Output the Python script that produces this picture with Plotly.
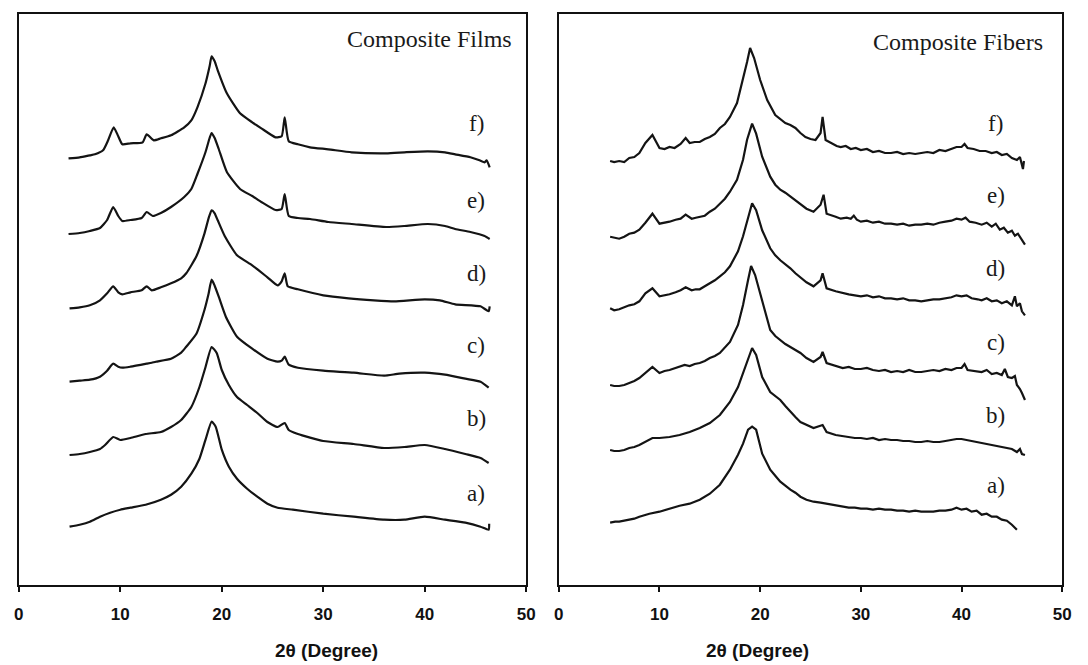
import plotly.graph_objects as go

# ---------------- data: (2theta, intensity above own baseline) ----------------
films_f = [(4.9,0),(6,1),(7,3),(7.5,4),(8.3,8),(8.8,18),(9.35,31),(9.8,22),(10.2,14),(11,15),(12.2,16),(12.6,24),(13.3,18),(14,20),(15,23),(16.3,31),(17,38),(17.6,51),(18.4,75),(18.8,92),(19.0,102),(19.3,97),(19.6,88),(20.5,65),(21.8,45),(23,36),(23.9,30),(25.3,21),(25.9,22),(26.2,41),(26.6,17),(27.5,14),(28.7,11),(30.5,9),(32.8,6),(36.2,5),(38,6),(40.3,7),(42,6),(43,4),(44.5,1),(45.4,-2),(45.9,-4),(46.1,-2),(46.4,-9)]
films_e = [(4.9,0),(6,1),(7,3),(8,6),(8.7,14),(9.3,27),(9.8,18),(10.2,13),(11,14),(12.1,16),(12.6,22),(13.2,18),(14,21),(15,27),(16.3,37),(17,45),(17.6,60),(18.4,82),(18.8,96),(19.0,101),(19.3,96),(19.7,85),(20.5,62),(21.8,45),(23,38),(23.9,32),(25.3,24),(25.9,25),(26.2,40),(26.6,18),(27.5,16),(28.7,15),(30.5,12),(32.8,10),(36.2,7),(38,8),(40.3,10),(42,8),(43,5),(44.5,2),(45.9,-2),(46.4,-5)]
films_d = [(5,0),(6,1),(7,3),(8,8),(8.7,15),(9.3,22),(9.8,16),(10.2,14),(11,16),(12.1,18),(12.6,22),(13.1,18),(14,21),(15,25),(16,30),(16.5,35),(17.5,52),(18.3,75),(18.7,90),(19.0,98),(19.3,95),(19.6,88),(20.3,72),(21.5,53),(23,43),(24.5,31),(25.5,23),(25.9,27),(26.2,35),(26.5,22),(27.5,19),(30,13),(32.5,10),(35,8),(37,7),(40,9),(41.5,8),(43,4),(45.5,2),(46.3,-3),(46.4,2)]
films_c = [(5,0),(6,1),(7,2),(8,5),(8.7,11),(9.3,18),(9.8,15),(10.2,14),(11,15),(12.6,18),(13.1,19),(13.5,20),(15,23),(16,29),(16.5,35),(17.5,48),(18.3,72),(18.7,88),(19.0,102),(19.3,96),(19.7,85),(20.4,65),(21.5,45),(23,33),(24.5,23),(25.5,20),(25.9,21),(26.2,25),(26.6,17),(27.5,14),(30,11),(33,9),(36,6),(37.5,8),(40,9),(42,7),(44,3),(45.5,0),(46.3,-6)]
films_b = [(5,0),(6,1),(7,3),(8,6),(8.5,10),(9.3,18),(10,15),(11,17),(12.5,21),(14,23),(15,28),(16,35),(17,48),(17.8,68),(18.4,88),(19.0,108),(19.5,102),(20,85),(20.7,70),(21.5,58),(22.5,50),(23.5,42),(24.5,33),(25.5,28),(26.2,32),(26.6,25),(27.5,21),(30,14),(33,11),(36,7),(38,8),(40,10),(42,6),(44,1),(45.5,-3),(46.3,-8)]
films_a = [(5,0),(6,2),(7,5),(8,10),(9,14),(10,17),(11,19),(12.5,22),(14,27),(15,32),(16,40),(17,53),(17.8,68),(18.4,87),(19,105),(19.4,100),(20,77),(20.7,60),(21.5,48),(22.5,38),(23.5,30),(24.5,23),(25.5,19),(27,17),(30,13),(33,10),(36,7),(38,7),(40,10),(42,7),(44,4),(45.5,0),(46.3,-3),(46.35,3)]

fibers_f = [(5.1,0),(5.5,-1),(6,0),(6.5,-1),(7,3),(7.5,4),(8,8),(8.6,18),(9.3,26),(10,13),(10.5,12),(11,14),(11.5,13),(12.1,17),(12.6,23),(13,18),(13.5,19),(14,19),(14.5,22),(15,24),(15.5,27),(16,33),(16.5,37),(17,44),(17.7,58),(18.3,81),(18.7,99),(19.0,113),(19.4,103),(20,81),(20.7,61),(21.5,46),(22,42),(22.5,38),(23,36),(23.5,33),(24,28),(24.5,24),(25,22),(25.5,21),(26.0,28),(26.2,44),(26.5,21),(27,18),(27.6,15),(28,14),(28.5,15),(29,12),(29.5,13),(30,11),(30.6,12),(31.2,9),(31.8,10),(32.4,8),(33,8),(33.6,9),(34.2,7),(34.8,8),(35.4,7),(36,8),(36.6,9),(37.2,8),(37.8,11),(38.4,10),(39,12),(39.5,14),(40,14),(40.3,17),(40.6,13),(41.2,12),(41.8,10),(42.4,10),(43,8),(43.5,9),(44,6),(44.5,7),(45,3),(45.5,1),(45.8,4),(46,-4),(46.1,-8),(46.2,0)]
fibers_e = [(5.1,0),(5.5,-1),(6,-2),(6.5,0),(7,3),(7.5,4),(8,7),(8.6,14),(9.3,23),(10,13),(10.5,14),(11,15),(11.6,17),(12.1,18),(12.6,22),(13.2,18),(13.6,19),(14,20),(14.5,21),(15,25),(15.5,28),(16,33),(16.5,38),(17,45),(17.7,57),(18.3,77),(18.7,97),(19.2,113),(19.6,103),(20.2,80),(21,60),(21.5,52),(22,47),(22.5,44),(23,40),(23.5,36),(24,32),(24.6,28),(25.3,25),(26.0,32),(26.3,42),(26.6,23),(27.5,20),(28,18),(28.6,19),(29,18),(29.3,21),(29.6,17),(30,15),(30.6,16),(31.2,14),(31.8,15),(32.4,13),(33,13),(33.6,12),(34.2,13),(34.8,11),(35.4,12),(36,12),(36.6,13),(37.2,12),(37.8,14),(38.4,15),(39,16),(39.5,18),(40,17),(40.4,19),(40.8,15),(41.4,14),(42,12),(42.5,14),(43,10),(43.4,13),(43.8,7),(44.2,9),(44.6,4),(45,6),(45.3,1),(45.6,3),(46,-4),(46.3,-8)]
fibers_d = [(5.1,0),(5.5,-2),(6,-1),(6.5,1),(7,3),(7.5,4),(8,7),(8.6,15),(9.3,20),(10,12),(10.5,13),(11,14),(11.6,16),(12.1,18),(12.6,21),(13.2,18),(13.6,19),(14,19),(14.5,22),(15,25),(15.5,28),(16,32),(16.5,36),(17,42),(17.8,57),(18.3,72),(18.8,92),(19.2,105),(19.6,98),(20.2,78),(21,60),(21.5,53),(22,48),(22.5,44),(23,40),(23.5,35),(24,31),(24.6,26),(25.3,22),(26.0,28),(26.2,35),(26.6,20),(27.5,17),(28.2,15),(28.8,14),(29.4,13),(30,12),(30.6,13),(31.2,11),(31.8,12),(32.4,10),(33,10),(33.6,9),(34.2,10),(34.8,8),(35.4,8),(36,7),(36.6,8),(37.2,9),(37.8,9),(38.4,10),(39,11),(39.5,13),(40,12),(40.5,13),(41,10),(41.6,9),(42,8),(42.5,10),(43,7),(43.5,8),(44,5),(44.5,7),(45,3),(45.3,12),(45.5,2),(45.8,5),(46,-3),(46.3,-7)]
fibers_c = [(5.1,0),(5.5,-1),(6,-1),(6.5,0),(7,2),(7.5,4),(8,7),(8.6,12),(9.3,18),(10,12),(10.5,14),(11,15),(11.6,17),(12.5,20),(13,19),(13.5,21),(14,22),(14.5,24),(15,27),(15.5,29),(16,32),(16.5,37),(17,43),(17.8,60),(18.3,80),(18.8,105),(19.1,119),(19.5,110),(20,92),(20.5,72),(21,55),(21.5,49),(22,45),(22.5,41),(23,38),(23.5,35),(24,32),(24.6,27),(25.3,23),(26.0,28),(26.2,33),(26.6,22),(27.5,19),(28.2,17),(28.8,18),(29.4,16),(30,16),(30.6,17),(31.2,15),(31.8,14),(32.4,15),(33,13),(33.6,14),(34.2,13),(34.8,15),(35.4,13),(36,13),(36.6,14),(37.2,15),(37.8,14),(38.4,16),(39,15),(39.5,17),(40,17),(40.3,21),(40.6,15),(41.2,14),(42,13),(42.5,15),(43,11),(43.5,12),(44,10),(44.3,16),(44.6,8),(45,7),(45.3,9),(45.5,0),(45.8,-4),(46,-8),(46.3,-15)]
fibers_b = [(5.1,0),(5.5,-1),(6,-1),(6.5,0),(7,2),(7.5,3),(8,5),(9,10),(9.3,12),(10,12),(11,13),(12,15),(13,18),(14,22),(15,27),(16,35),(17,48),(17.8,63),(18.3,77),(18.8,93),(19.2,102),(19.6,95),(20.2,73),(21,58),(21.5,54),(22,50),(22.5,44),(23,38),(23.5,33),(24,28),(24.6,25),(25.3,22),(26.2,25),(26.6,18),(27.5,15),(28.2,14),(28.8,13),(29.4,12),(30,12),(30.6,11),(31.2,12),(31.8,10),(32.4,11),(33,10),(33.6,10),(34.2,9),(34.8,9),(35.4,8),(36,8),(36.6,9),(37.2,8),(37.8,8),(38.4,9),(39,10),(39.5,11),(40,11),(40.5,10),(41,9),(41.6,8),(42,7),(42.6,6),(43.2,5),(44,3),(44.5,2),(45,1),(45.5,-2),(45.8,1),(46,-4),(46.3,-5)]
fibers_a = [(5.1,0),(5.6,1),(6,1),(6.5,2),(7,3),(7.5,4),(8,6),(9,9),(10,11),(11,14),(12,17),(13,19),(14,23),(15,29),(16,38),(17,53),(17.8,68),(18.3,79),(18.8,93),(19.2,96),(19.6,93),(20.2,69),(21,53),(21.5,47),(22,41),(22.5,37),(23,33),(23.5,30),(24,26),(24.6,23),(25.3,21),(26,20),(27,18),(27.6,17),(28.2,16),(28.8,15),(29.4,15),(30,14),(30.6,14),(31.2,13),(31.8,14),(32.4,13),(33,13),(33.6,12),(34.2,12),(34.8,11),(35.4,12),(36,11),(36.6,11),(37.2,11),(37.8,12),(38.4,12),(39,13),(39.5,15),(40,13),(40.5,14),(41,11),(41.5,12),(42,8),(42.5,9),(43,6),(43.5,6),(44,3),(44.5,2),(45,-2),(45.5,-7)]

curve_labels = ["a)", "b)", "c)", "d)", "e)", "f)"]
films_offsets = [58.3, 130, 203.3, 276.7, 351, 426.7]
fibers_offsets = [62.3, 135, 200, 276.7, 348.3, 424]
films_label_y = [92, 167, 240, 312, 385, 462]
fibers_label_y = [100, 170, 243, 317, 390, 462]
x_ticks = [0, 10, 20, 30, 40, 50]

films = [films_a, films_b, films_c, films_d, films_e, films_f]
fibers = [fibers_a, fibers_b, fibers_c, fibers_d, fibers_e, fibers_f]

W, H = 1088, 665
fig = go.Figure()

for curve, off in zip(films, films_offsets):
    fig.add_trace(go.Scatter(x=[p[0] for p in curve], y=[p[1] + off for p in curve],
                             mode="lines", line=dict(color="#141414", width=2.2, shape="spline", smoothing=0.5),
                             xaxis="x", yaxis="y", showlegend=False, hoverinfo="skip"))
for curve, off in zip(fibers, fibers_offsets):
    fig.add_trace(go.Scatter(x=[p[0] for p in curve], y=[p[1] + off for p in curve],
                             mode="lines", line=dict(color="#141414", width=2.2),
                             xaxis="x2", yaxis="y2", showlegend=False, hoverinfo="skip"))

ydom = [80 / H, (H - 13.5) / H]
common_x = dict(range=[0, 50], tickvals=x_ticks, ticks="outside", ticklen=5, tickwidth=2,
                tickcolor="#111", showline=True, mirror=True, linecolor="#111", linewidth=2,
                showgrid=False, zeroline=False, ticklabelstandoff=8,
                tickfont=dict(family="Liberation Sans, Arial", size=17, color="#111", weight="bold"))
common_y = dict(range=[0, 571.5], showticklabels=False, ticks="", showline=True, mirror=True,
                linecolor="#111", linewidth=2, showgrid=False, zeroline=False, domain=ydom)

fig.update_layout(
    width=W, height=H, margin=dict(l=0, r=0, t=0, b=0),
    paper_bgcolor="white", plot_bgcolor="white",
    xaxis=dict(domain=[14 / W, 528 / W], anchor="y", **common_x),
    yaxis=dict(anchor="x", **common_y),
    xaxis2=dict(domain=[561 / W, 1071 / W], anchor="y2", **common_x),
    yaxis2=dict(anchor="x2", **common_y),
)

serif = dict(family="Liberation Serif, Times New Roman", size=23, color="#1a1a1a")
for lab, y in zip(curve_labels, films_label_y):
    fig.add_annotation(x=45.1, y=y, xref="x", yref="y", text=lab, showarrow=False, font=serif)
for lab, y in zip(curve_labels, fibers_label_y):
    fig.add_annotation(x=43.4, y=y, xref="x2", yref="y2", text=lab, showarrow=False, font=serif)

title_font = dict(family="Liberation Serif, Times New Roman", size=24, color="#1a1a1a")
fig.add_annotation(x=516 / W, y=1 - 39 / H, xref="paper", yref="paper", xanchor="right",
                   yanchor="middle", text="Composite Films", showarrow=False, font=title_font)
fig.add_annotation(x=1054 / W, y=1 - 42 / H, xref="paper", yref="paper", xanchor="right",
                   yanchor="middle", text="Composite Fibers", showarrow=False, font=title_font)

axis_font = dict(family="Liberation Sans, Arial", size=19, color="#111", weight="bold")
fig.add_annotation(x=271 / W, y=1 - 650 / H, xref="paper", yref="paper", text="2θ (Degree)",
                   showarrow=False, font=axis_font, yanchor="middle")
fig.add_annotation(x=816 / W, y=1 - 650 / H, xref="paper", yref="paper", text="2θ (Degree)",
                   showarrow=False, font=axis_font, yanchor="middle")

fig.write_html("out.html", config={"displayModeBar": False},
               post_script="document.body.style.margin='0';document.body.style.overflow='hidden';")
